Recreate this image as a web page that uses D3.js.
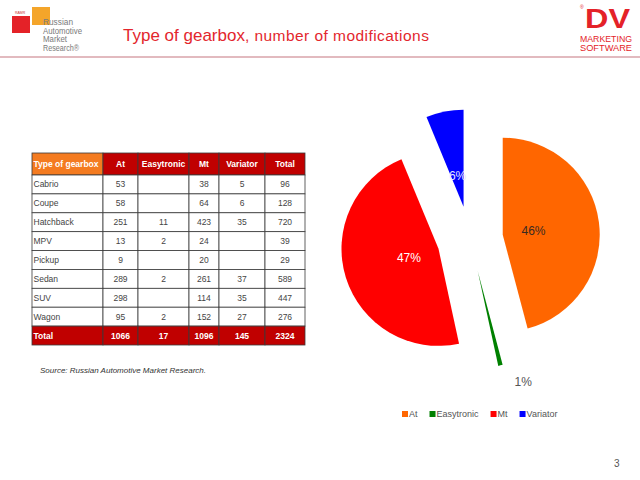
<!DOCTYPE html>
<html><head><meta charset="utf-8">
<script src="https://cdn.jsdelivr.net/npm/d3@7"></script>
<style>
body{margin:0;background:#fff;}
svg{display:block;font-family:Arial,"Liberation Sans",sans-serif;}
</style>
</head><body>
<svg id="c" width="640" height="480"></svg>
<script>
// ---------- DATA ----------
const titleMain = "Type of gearbox";
const titleSub = ", number of modifications";
const columns = ["Type of gearbox","At","Easytronic","Mt","Variator","Total"];
const categories = ["Cabrio","Coupe","Hatchback","MPV","Pickup","Sedan","SUV","Wagon"];
const atValues = [53,58,251,13,9,289,298,95];
const easytronicValues = [null,null,11,2,null,2,null,2];
const mtValues = [38,64,423,24,20,261,114,152];
const variatorValues = [5,6,35,null,null,37,35,27];
const rowTotals = [96,128,720,39,29,589,447,276];
const totalLabel = "Total";
const columnTotals = [1066,17,1096,145,2324];
const series = ["At","Easytronic","Mt","Variator"];
const seriesTotals = [1066,17,1096,145];
const sourceText = "Source: Russian Automotive  Market Research.";
const pageNumber = "3";

// ---------- STYLE ----------
const seriesColors = ["#FF6600","#008000","#FF0000","#0000FF"];
const labelColors = ["#3a2a20","#555555","#ffffff","#e6e6ff"];
const red = "#E3262D";

const svg = d3.select("#c");

// ---------- HEADER ----------
svg.append("rect").attr("x",12).attr("y",16).attr("width",18).attr("height",17).attr("fill","#E42228");
svg.append("rect").attr("x",32).attr("y",7).attr("width",18).attr("height",18).attr("fill","#F4A52A");
svg.append("text").attr("x",15).attr("y",14).attr("font-size",3.5).attr("fill","#c33").text("RAMR");
const logoLines = ["Russian","Automotive","Market","Research®"];
const logoWidths = [30,39,24,36];
svg.append("g").selectAll("text").data(logoLines).join("text")
  .attr("x",43).attr("y",(d,i)=>25+i*8.7)
  .attr("font-size",9).attr("fill","#7a7a7a")
  .attr("textLength",(d,i)=>logoWidths[i]).attr("lengthAdjust","spacingAndGlyphs")
  .text(d=>d);

const title = svg.append("text").attr("x",123).attr("y",41).attr("fill",red);
title.append("tspan").attr("font-size",17).text(titleMain);
title.append("tspan").attr("font-size",15.5).attr("letter-spacing",0.45).text(titleSub);

// DV logo
svg.append("text").attr("x",585).attr("y",28)
  .attr("font-size",27).attr("font-weight","bold").attr("fill","#E42228")
  .attr("textLength",45).attr("lengthAdjust","spacingAndGlyphs").text("DV");
svg.append("text").attr("x",580).attr("y",9).attr("font-size",5).attr("fill","#E42228").text("®");
svg.append("text").attr("x",606).attr("y",42).attr("text-anchor","middle")
  .attr("font-size",8.5).attr("fill","#E42228").attr("textLength",52).attr("lengthAdjust","spacingAndGlyphs").text("MARKETING");
svg.append("text").attr("x",606).attr("y",50.5).attr("text-anchor","middle")
  .attr("font-size",8.5).attr("fill","#E42228").attr("textLength",52).attr("lengthAdjust","spacingAndGlyphs").text("SOFTWARE");

svg.append("line").attr("x1",0).attr("x2",640).attr("y1",57).attr("y2",57)
  .attr("stroke","#d9a3aa").attr("stroke-width",1.5);

// ---------- TABLE ----------
const colEdges = [32,103,138,189,219,265,305];
const headerTop = 153, headerBottom = 175, tableBottom = 345;
const rowKeys = categories.concat([totalLabel]);
const yRow = d3.scaleBand().domain(rowKeys).range([headerBottom, tableBottom]);
const seriesValues = [atValues, easytronicValues, mtValues, variatorValues, rowTotals];
const tbl = svg.append("g");

// header
columns.forEach((c,i)=>{
  tbl.append("rect").attr("x",colEdges[i]).attr("y",headerTop)
    .attr("width",colEdges[i+1]-colEdges[i]).attr("height",headerBottom-headerTop)
    .attr("fill", i===0 ? "#F47B20" : "#C00000").attr("stroke","#3a3a3a").attr("stroke-width",0.8);
  tbl.append("text")
    .attr("x", i===0 ? colEdges[i]+1.5 : (colEdges[i]+colEdges[i+1])/2)
    .attr("y",(headerTop+headerBottom)/2+3)
    .attr("text-anchor", i===0 ? "start" : "middle")
    .attr("font-size",8.5).attr("font-weight","bold").attr("fill","#fff").text(c);
});

// body rows
rowKeys.forEach((r,ri)=>{
  const isTotal = r===totalLabel;
  const y0 = yRow(r), h = yRow.bandwidth();
  for(let ci=0; ci<columns.length; ci++){
    tbl.append("rect").attr("x",colEdges[ci]).attr("y",y0)
      .attr("width",colEdges[ci+1]-colEdges[ci]).attr("height",h)
      .attr("fill", isTotal ? "#C00000" : "#fff").attr("stroke","#3a3a3a").attr("stroke-width",0.8);
    let txt;
    if(ci===0) txt = r;
    else {
      const v = isTotal ? columnTotals[ci-1] : seriesValues[ci-1][ri];
      txt = v==null ? "" : String(v);
    }
    tbl.append("text")
      .attr("x", ci===0 ? colEdges[ci]+1.5 : (colEdges[ci]+colEdges[ci+1])/2)
      .attr("y", y0+h/2+3)
      .attr("text-anchor", ci===0 ? "start" : "middle")
      .attr("font-size",8.5)
      .attr("font-weight", isTotal ? "bold" : "normal")
      .attr("fill", isTotal ? "#fff" : "#444")
      .text(txt);
  }
});

svg.append("text").attr("x",40).attr("y",373).attr("font-size",8).attr("font-style","italic")
  .attr("fill","#333").text(sourceText);

// ---------- PIE ----------
const cx = 470, cy = 239, R = 97, EXPLODE = 33;
const pieData = series.map((s,i)=>({name:s, v:seriesTotals[i], color:seriesColors[i], lc:labelColors[i]}));
const arcs = d3.pie().sort(null).value(d=>d.v)(pieData);
const arc = d3.arc().innerRadius(0).outerRadius(R);
const total = d3.sum(seriesTotals);
const pct = d3.format(".0%");
const pg = svg.append("g").attr("transform",`translate(${cx},${cy})`);
pg.selectAll("path").data(arcs).join("path")
  .attr("d",arc).attr("fill",d=>d.data.color)
  .attr("transform",d=>{const m=(d.startAngle+d.endAngle)/2;return `translate(${Math.sin(m)*EXPLODE},${-Math.cos(m)*EXPLODE})`;});

const labelRadius = d=> d.data.v/total < 0.03 ? R*1.57 : R*0.66;
const labelNudge = d=> d.data.v/total < 0.03 ? -0.12 : 0;
pg.selectAll("text").data(arcs).join("text")
  .attr("x",d=>{const m=(d.startAngle+d.endAngle)/2+labelNudge(d);return Math.sin(m)*labelRadius(d);})
  .attr("y",d=>{const m=(d.startAngle+d.endAngle)/2+labelNudge(d);return -Math.cos(m)*labelRadius(d)+4;})
  .attr("text-anchor","middle").attr("font-size",12)
  .attr("fill",d=>d.data.lc)
  .text(d=>pct(d.data.v/total));

// legend
const lg = svg.append("g");
let lx = 402;
series.forEach((s,i)=>{
  lg.append("rect").attr("x",lx).attr("y",411).attr("width",6).attr("height",6).attr("fill",seriesColors[i]);
  const t = lg.append("text").attr("x",lx+7).attr("y",417).attr("font-size",9).attr("fill","#555").text(s);
  lx += 7 + t.node().getComputedTextLength() + 12;
});

svg.append("text").attr("x",614).attr("y",467).attr("font-size",10).attr("fill","#555").text(pageNumber);
</script>
</body></html>
